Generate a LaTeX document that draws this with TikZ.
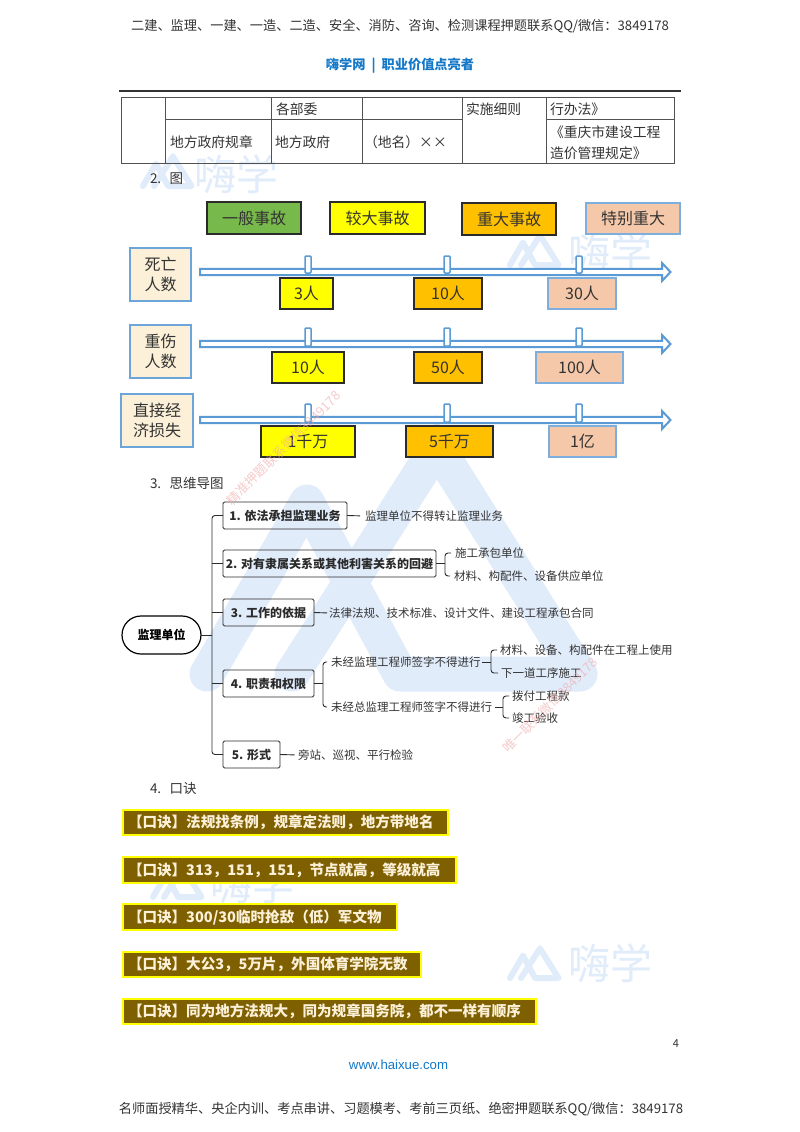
\documentclass[tikz,border=0pt]{standalone}
\usepackage{fontspec}
\setmainfont{Noto Sans CJK SC}
\newfontfamily\hxlatin{Liberation Sans}
\usetikzlibrary{calc}
\definecolor{wm}{HTML}{E1ECFB}
\definecolor{pinkwm}{HTML}{F0A8A8}
\definecolor{hxblue}{HTML}{1478C8}
\definecolor{axisblue}{HTML}{5B9BD5}
\definecolor{inkdark}{HTML}{2B2B2B}
\definecolor{cgreen}{HTML}{78B94B}
\definecolor{cyellow}{HTML}{FFFF00}
\definecolor{corange}{HTML}{FFC000}
\definecolor{cpeach}{HTML}{F5C8AA}
\definecolor{ccream}{HTML}{FCF1D8}
\definecolor{cbrown}{HTML}{7F6000}
\definecolor{ctext}{HTML}{333333}
\newcommand{\fz}[1]{\fontsize{#1}{#1}\selectfont}
\newcommand{\bx}[7]{\node[#2,minimum width={#5-#3},minimum height={#6-#4}] (#1) at ({(#3+#5)/2},{(#4+#6)/2}) {#7};}
\newcommand{\hxaxis}[1]{\draw[axisline] (200,#1-3.2) -- (662,#1-3.2) -- (662,#1-9) -- (670.5,#1) -- (662,#1+9) -- (662,#1+3.2) -- (200,#1+3.2) -- cycle;}
\newcommand{\hxlogo}[4]{\begin{scope}[shift={(#1,#2)},scale=#3]
\draw[wm,line width=#4,line cap=round,line join=round] (0,0) -- (100,-172) -- (193,0) -- (373,0) -- (230,-227) -- (85,0);
\fill[wm] (230,-259.5) -- (244.75,-217.6) -- (215.25,-217.6) -- cycle;
\end{scope}}
\tikzset{
  x=1pt,y=-1pt,
  plain/.style={inner sep=0pt,outer sep=0pt,text=ctext},
  lbl/.style={plain,anchor=west},
  cell/.style={draw=ctext!85,line width=.9pt,inner sep=0pt,outer sep=0pt},
  sev/.style={draw=inkdark,line width=1.1pt,inner sep=0pt,outer sep=0pt,text=ctext,font=\fz{16}},
  sevpeach/.style={draw=axisblue!80,line width=1.1pt,inner sep=0pt,outer sep=0pt,text=ctext,fill=cpeach,font=\fz{16}},
  rowhead/.style={draw=axisblue!90,line width=1.1pt,fill=ccream,inner sep=0pt,outer sep=0pt,text=ctext,align=center,font=\fontsize{16}{20}\selectfont},
  axisline/.style={draw=axisblue,line width=2pt,fill=white,line join=miter},
  tick/.style={draw=axisblue,line width=1.5pt,fill=white,rounded corners=1pt,inner sep=0pt,outer sep=0pt,minimum width=5.5pt},
  mbox/.style={draw=inkdark,line width=.9pt,rounded corners=1.5pt,inner sep=0pt,outer sep=0pt,font=\bfseries\fz{12},text=inkdark},
  mcenter/.style={draw=black,line width=1.2pt,rounded corners=19pt,inner sep=0pt,outer sep=0pt,font=\bfseries\fz{12},text=black},
  mline/.style={draw=inkdark,line width=.9pt,rounded corners=3pt},
  leaf/.style={lbl,font=\fz{11.5}},
  koujue/.style={draw=cyellow,line width=1.4pt,fill=cbrown,inner sep=0pt,outer sep=0pt},
  kjtext/.style={plain,anchor=west,text=ccream,font=\bfseries\fz{14.55}},
  wmtext/.style={inner sep=0pt,outer sep=0pt,text=wm,font=\fz{42}},
  pinkmark/.style={inner sep=0pt,outer sep=0pt,text=pinkwm,opacity=.6,font=\fz{13},rotate=45}
}
\begin{document}
\begin{tikzpicture}
\useasboundingbox (0,0) rectangle (800,1132);
\fill[white] (0,0) rectangle (800,1132);
% watermarks
\hxlogo{207}{674}{1}{35pt}
\hxlogo{143}{186}{.13}{6pt}
\hxlogo{510}{265}{.13}{6pt}
\hxlogo{153}{897}{.13}{6pt}
\hxlogo{510}{978}{.13}{6pt}
\node[wmtext] (wma) at (236,174) {嗨学};
\node[wmtext] (wmb) at (610,252) {嗨学};
\node[wmtext] (wmc) at (252,884) {嗨学};
\node[wmtext] (wmd) at (610,963) {嗨学};
% header
\node[plain,font=\fz{13.2}] (head) at (400,26) {二建、监理、一建、一造、二造、安全、消防、咨询、检测课程押题联系QQ/微信：3849178};
\node[plain,text=hxblue,font=\bfseries\fz{13.2}] (title) at (400,66) {嗨学网\ \ |\ \ 职业价值点亮者};
\coordinate (rulea) at (119,91);
\coordinate (ruleb) at (681,91);
\draw[ctext,line width=1.2pt] (rulea) -- (ruleb);
% table
\bx{ca}{cell}{121}{97}{165}{163}{}
\bx{cb}{cell}{165}{97}{271}{119}{}
\bx{cc}{cell}{165}{119}{271}{163}{}
\bx{cd}{cell}{271}{97}{362}{119}{}
\bx{ce}{cell}{271}{119}{362}{163}{}
\bx{cf}{cell}{362}{97}{462}{119}{}
\bx{cg}{cell}{362}{119}{462}{163}{}
\bx{ch}{cell}{462}{97}{546}{163}{}
\bx{ci}{cell}{546}{97}{674}{119}{}
\bx{cj}{cell}{546}{119}{674}{163}{}
\tikzset{tb/.style={lbl,font=\fz{13.8}}}
\node[tb] (ta) at (276,109) {各部委};
\node[tb] (tb1) at (466,109) {实施细则};
\node[tb] (tc) at (550,109) {行办法》};
\node[tb] (td) at (170,142) {地方政府规章};
\node[tb] (te) at (275,142) {地方政府};
\node[tb] (tf) at (364,142) {（地名）××};
\node[tb] (tg) at (550,132) {《重庆市建设工程};
\node[tb] (th) at (550,153) {造价管理规定》};
\tikzset{sect/.style={lbl,font=\fz{13.5}}}
\node[sect] (s2) at (150,179) {2.\ \ \,图};
\node[sect] (s3) at (150,483) {3.\ \ \,思维导图};
\node[sect] (s4) at (150,788) {4.\ \ \,口诀};
% severity legend
\bx{la}{sev,fill=cgreen}{207}{202}{301}{234}{一般事故}
\bx{lb}{sev,fill=cyellow}{330}{202}{425}{234}{较大事故}
\bx{lc}{sev,fill=corange}{462}{203}{556}{235}{重大事故}
\bx{ld}{sevpeach}{586}{203}{680}{234}{特别重大}
% rows
\bx{ha}{rowhead}{130}{248}{191}{301}{死亡\\人数}
\bx{hb}{rowhead}{130}{325}{191}{378}{重伤\\人数}
\bx{hc}{rowhead}{121}{394}{193}{447}{直接经\\济损失}
\hxaxis{272}
\hxaxis{344}
\hxaxis{420}
\bx{ta1}{tick}{305}{256}{311}{273}{}
\bx{ta2}{tick}{444}{256}{450}{273}{}
\bx{ta3}{tick}{576}{256}{582}{273}{}
\bx{tb2}{tick}{305}{328}{311}{346}{}
\bx{tb3}{tick}{444}{328}{450}{346}{}
\bx{tb4}{tick}{576}{328}{582}{346}{}
\bx{tc1}{tick}{305}{404}{311}{422}{}
\bx{tc2}{tick}{444}{404}{450}{422}{}
\bx{tc3}{tick}{576}{404}{582}{422}{}
\bx{va}{sev,fill=cyellow}{280}{278}{333}{309}{3人}
\bx{vb}{sev,fill=corange}{414}{278}{482}{309}{10人}
\bx{vc}{sevpeach}{548}{278}{616}{309}{30人}
\bx{vd}{sev,fill=cyellow}{272}{352}{344}{383}{10人}
\bx{ve}{sev,fill=corange}{414}{352}{482}{383}{50人}
\bx{vf}{sevpeach}{536}{352}{623}{383}{100人}
\bx{vg}{sev,fill=cyellow}{261}{426}{355}{457}{1千万}
\bx{vh}{sev,fill=corange}{406}{426}{493}{457}{5千万}
\bx{vi}{sevpeach}{549}{426}{616}{457}{1亿}
% mind map
\bx{root}{mcenter}{122}{616}{201}{654}{监理单位}
\bx{ma}{mbox}{223}{502}{347}{529}{1. 依法承担监理业务}
\bx{mb}{mbox}{223}{550}{436}{577}{2. 对有隶属关系或其他利害关系的回避}
\bx{mc}{mbox}{223}{599}{314}{626}{3. 工作的依据}
\bx{md}{mbox}{223}{670}{314}{697}{4. 职责和权限}
\bx{me}{mbox}{223}{741}{280}{768}{5. 形式}
\coordinate (trunk) at (212,635);
\draw[mline] (ma.west) -| (trunk) |- (me.west);
\draw[mline] (root.east) -- (trunk);
\draw[mline] (mb.west) -- (mb.west -| trunk);
\draw[mline] (mc.west) -- (mc.west -| trunk);
\draw[mline] (md.west) -- (md.west -| trunk);
\node[leaf] (la1) at (365,516) {监理单位不得转让监理业务};
\draw[mline,shorten >=5pt] (ma.east) -- (la1.west);
\node[leaf] (lb1) at (455,553) {施工承包单位};
\node[leaf] (lb2) at (454,576) {材料、构配件、设备供应单位};
\coordinate (jb) at (445,563.5);
\draw[mline] (mb.east) -- (jb);
\draw[mline,shorten <=4pt,shorten >=4pt] (lb1.west) -| (jb) |- (lb2.west);
\node[leaf] (lc1) at (329,613) {法律法规、技术标准、设计文件、建设工程承包合同};
\draw[mline,shorten >=2pt] (mc.east) -- (lc1.west);
\node[leaf] (ld1) at (331,662) {未经监理工程师签字不得进行};
\node[leaf] (ld2) at (331,707) {未经总监理工程师签字不得进行};
\coordinate (jd) at (323,683.5);
\draw[mline] (md.east) -- (jd);
\draw[mline,shorten <=4pt,shorten >=4pt] (ld1.west) -| (jd) |- (ld2.west);
\node[leaf] (ld3) at (500,650) {材料、设备、构配件在工程上使用};
\node[leaf] (ld4) at (501,673) {下一道工序施工};
\coordinate (je) at (491,662);
\draw[mline,shorten <=1.5pt] (ld1.east) -- (je);
\draw[mline,shorten <=3pt,shorten >=3pt] (ld3.west) -| (je) |- (ld4.west);
\node[leaf] (ld5) at (512,696) {拨付工程款};
\node[leaf] (ld6) at (512,718) {竣工验收};
\coordinate (jf) at (503,707);
\draw[mline,shorten <=3pt] (ld2.east) -- (jf);
\draw[mline,shorten <=3pt,shorten >=3pt] (ld5.west) -| (jf) |- (ld6.west);
\node[leaf] (le1) at (298,755) {旁站、巡视、平行检验};
\draw[mline,shorten >=3.5pt] (me.east) -- (le1.west);
% mnemonic bars
\bx{ka}{koujue}{123}{810}{448}{835}{}
\bx{kb}{koujue}{123}{857}{456}{883}{}
\bx{kc}{koujue}{123}{904}{397}{930}{}
\bx{kd}{koujue}{123}{952}{421}{977}{}
\bx{ke}{koujue}{123}{999}{536}{1024}{}
\node[kjtext] (kta) at (128,822.5) {【口诀】法规找条例，规章定法则，地方带地名};
\node[kjtext] (ktb) at (128,870) {【口诀】313，151，151，节点就高，等级就高};
\node[kjtext] (ktc) at (128,917) {【口诀】300/30临时抢敌（低）军文物};
\node[kjtext] (ktd) at (128,964.5) {【口诀】大公3，5万片，外国体育学院无数};
\node[kjtext] (kte) at (128,1011.5) {【口诀】同为地方法规大，同为规章国务院，都不一样有顺序};
% footer
\node[plain,font=\fz{11}] (pg) at (676,1044) {4};
\node[plain,text=hxblue,font=\hxlatin\fz{13.2}] (web) at (398.5,1065) {www.haixue.com};
\node[plain,font=\fz{13.2}] (foot) at (401,1109) {名师面授精华、央企内训、考点串讲、习题模考、考前三页纸、绝密押题联系QQ/微信：3849178};
% pink marks
\node[pinkmark] (pa) at (283.5,448) {精准押题联系微信3849178};
\node[pinkmark] (pb) at (550,705) {唯一联系微信3849178};
\end{tikzpicture}
\end{document}
